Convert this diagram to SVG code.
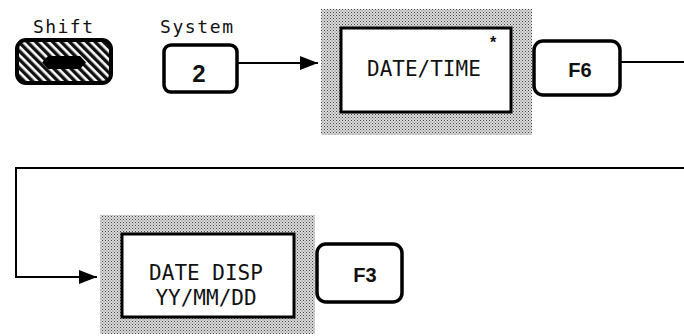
<svg xmlns="http://www.w3.org/2000/svg" width="684" height="336" viewBox="0 0 684 336">
<defs>
<pattern id="dots" width="3" height="3" patternUnits="userSpaceOnUse">
<rect width="3" height="3" fill="#dcdcdc"/>
<rect x="0" y="0" width="1" height="1" fill="#444"/>
<rect x="1.5" y="1.5" width="1" height="1" fill="#666"/>
</pattern>
<pattern id="hatch" width="6" height="6" patternUnits="userSpaceOnUse" patternTransform="rotate(-45)">
<rect width="6" height="6" fill="#fff"/>
<rect x="0" y="0" width="3.4" height="6" fill="#111"/>
</pattern>
<marker id="arr" viewBox="0 0 18 14" refX="18" refY="7" markerWidth="18" markerHeight="14" markerUnits="userSpaceOnUse" orient="auto">
<path d="M0,0 L18,7 L0,14 Z" fill="#000"/>
</marker>
<style>
.lbl{font-family:"DejaVu Sans Mono","Liberation Mono",monospace;font-size:18px;fill:#111}
.mono{font-family:"DejaVu Sans Mono","Liberation Mono",monospace;font-size:21px;fill:#111}
.key{fill:#fff;stroke:#000;stroke-width:3.5}
.keytxt{font-family:"Liberation Sans",Arial,sans-serif;font-weight:bold;font-size:20px;fill:#111;text-anchor:middle}
.shade{fill:url(#dots)}
.box{fill:#fff;stroke:#000;stroke-width:3}
.conn{fill:none;stroke:#000;stroke-width:2}
</style>
</defs>
<rect width="684" height="336" fill="#fff"/>

<g id="shift">
<text class="lbl" x="33" y="33" textLength="60" lengthAdjust="spacing">Shift</text>
<rect x="17" y="40" width="94" height="43" rx="9" fill="url(#hatch)" stroke="#000" stroke-width="4"/>
<path d="M48,56 L80,56 L86,62.5 L80,69 L48,69 L42,62.5 Z" fill="#000"/>
</g>

<g id="system2">
<text class="lbl" x="160" y="33" textLength="73" lengthAdjust="spacing">System</text>
<rect class="key" x="164" y="45" width="73" height="47" rx="7"/>
<text class="keytxt" x="199" y="82" style="font-size:24px">2</text>
</g>

<g id="datetime">
<rect class="shade" x="321" y="9" width="211" height="126"/>
<rect class="box" x="341" y="28" width="170" height="84"/>
<text class="mono" x="367" y="76">DATE/TIME</text>
<text x="493" y="48" font-family="Liberation Sans, Arial, sans-serif" font-weight="bold" font-size="16" text-anchor="middle" fill="#111">*</text>
</g>

<g id="f6">
<rect class="key" x="534" y="41" width="86" height="54" rx="9"/>
<text class="keytxt" x="580" y="77">F6</text>
</g>

<g id="datedisp">
<rect class="shade" x="100" y="215" width="215" height="119"/>
<rect class="box" x="122" y="234" width="172" height="83"/>
<text class="mono" x="206" y="280" text-anchor="middle">DATE DISP</text>
<text class="mono" x="206" y="305" text-anchor="middle">YY/MM/DD</text>
</g>

<g id="f3">
<rect class="key" x="317" y="244" width="85" height="58" rx="9"/>
<text class="keytxt" x="365" y="282">F3</text>
</g>

<g id="connectors">
<path class="conn" d="M238,63 L318,63" marker-end="url(#arr)"/>
<path class="conn" d="M620,62 L684,62"/>
<path class="conn" d="M684,168 L16,168 L16,277 L97,277" marker-end="url(#arr)"/>
</g>
</svg>
